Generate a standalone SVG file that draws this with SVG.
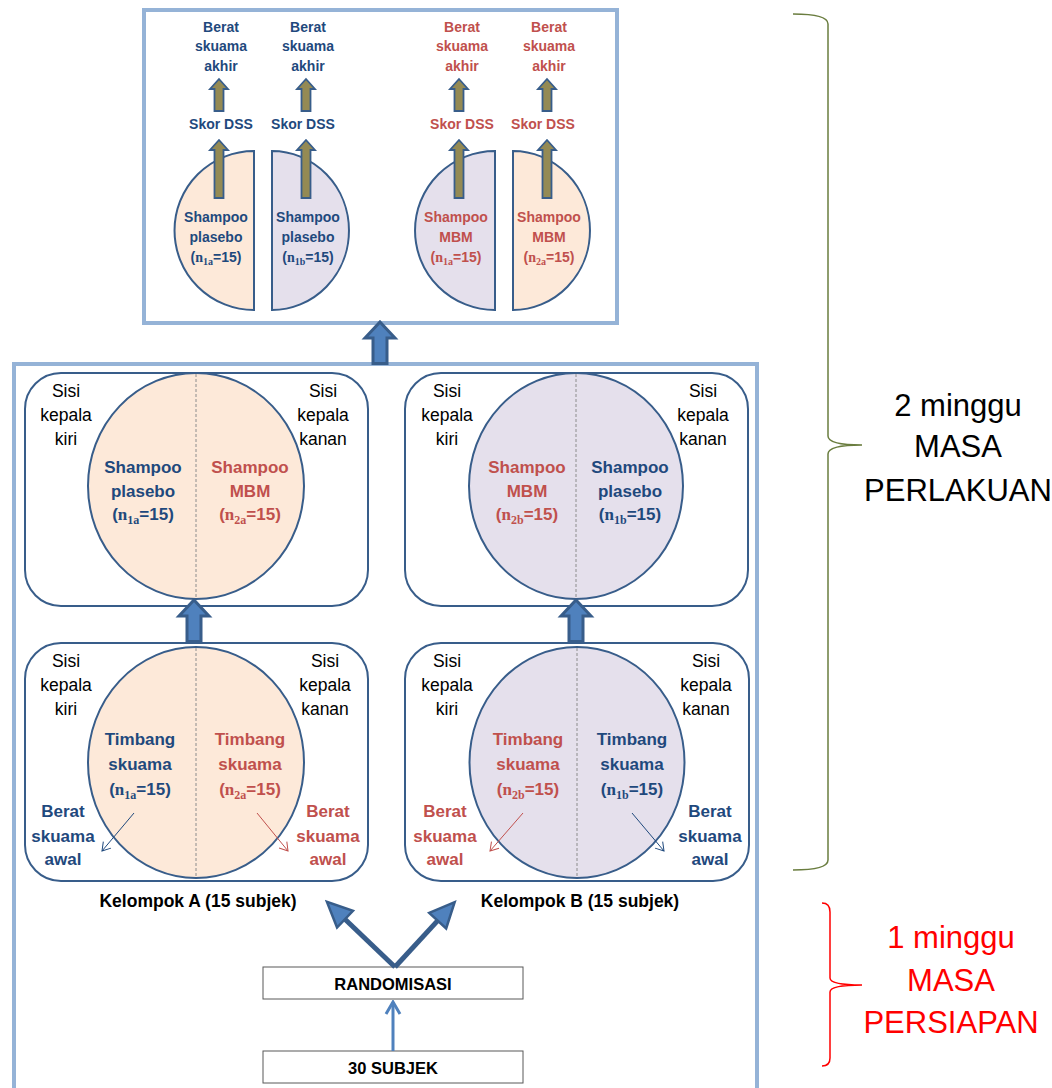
<svg xmlns="http://www.w3.org/2000/svg" xmlns:xlink="http://www.w3.org/1999/xlink" width="1052" height="1088" viewBox="0 0 1052 1088">
  <style>
    text { font-family: "Liberation Sans", Arial, sans-serif; text-anchor: middle; }
    .frame { fill: none; stroke: #95b3d7; stroke-width: 4; }
    .panel { fill: #ffffff; stroke: #385d8a; stroke-width: 2; }
    .peach { fill: #fde9d9; stroke: #385d8a; stroke-width: 2; }
    .lav { fill: #e5e0ec; stroke: #385d8a; stroke-width: 2; }
    .mid { stroke: #8c8c8c; stroke-width: 1; stroke-dasharray: 3 2; }
    .side { font-size: 17.5px; fill: #000000; }
    .lbl { font-size: 17px; font-weight: bold; }
    .sm { font-size: 14px; font-weight: bold; }
    .blue { fill: #1f497d; }
    .red { fill: #c0504d; }
    .serif { font-family: "Liberation Serif", "Times New Roman", serif; font-weight: bold; }
    .blk { fill: #4f81bd; stroke: #385d8a; stroke-width: 3; stroke-linejoin: miter; }
    .olive { fill: #948a54; stroke: #385d8a; stroke-width: 1.8; }
    .box { fill: #ffffff; stroke: #595959; stroke-width: 1; }
    .boxt { font-size: 16.5px; font-weight: bold; fill: #000000; }
    .group { font-size: 17.5px; font-weight: bold; fill: #000000; }
    .thinB { stroke: #1f497d; stroke-width: 1; fill: none; }
    .thinR { stroke: #c0504d; stroke-width: 1; fill: none; }
    .brace { fill: none; stroke-width: 1.5; }
    .period { font-size: 31px; }
  </style>
  <defs>
    <path id="blockUp" d="M0,0 L15,16 L7,16 L7,41.5 L-7,41.5 L-7,16 L-15,16 Z"/>
    <path id="oliveLong" d="M0,0 L9,10 L4.5,10 L4.5,58 L-4.5,58 L-4.5,10 L-9,10 Z"/>
    <path id="oliveShort" d="M0,0 L9,10 L4.5,10 L4.5,32 L-4.5,32 L-4.5,10 L-9,10 Z"/>
    <marker id="headB" viewBox="-9 -6 10 12" markerWidth="10" markerHeight="12" refX="0" refY="0" orient="auto" markerUnits="userSpaceOnUse">
      <path d="M-8,-5 L0,0 L-8,5" fill="none" stroke="#1f497d" stroke-width="1"/>
    </marker>
    <marker id="headR" viewBox="-9 -6 10 12" markerWidth="10" markerHeight="12" refX="0" refY="0" orient="auto" markerUnits="userSpaceOnUse">
      <path d="M-8,-5 L0,0 L-8,5" fill="none" stroke="#c0504d" stroke-width="1"/>
    </marker>
    <marker id="headThick" viewBox="-2 -14 30 28" markerWidth="30" markerHeight="28" refX="0" refY="0" orient="auto" markerUnits="userSpaceOnUse">
      <path d="M0,-11.5 L25,0 L0,11.5 Z" fill="#4f81bd" stroke="#385d8a" stroke-width="2.5"/>
    </marker>
    <marker id="headChevron" viewBox="-9 -2 18 16" markerWidth="18" markerHeight="16" refX="0" refY="0" orient="0" markerUnits="userSpaceOnUse">
      <path d="M-7,12 L0,0 L7,12" fill="none" stroke="#4f81bd" stroke-width="3"/>
    </marker>
  </defs>

  <rect width="1052" height="1088" fill="#ffffff"/>

  <!-- outer frames -->
  <g id="frames">
    <rect class="frame" x="144" y="10" width="473" height="313"/>
    <rect class="frame" x="14" y="364" width="743" height="800"/>
  </g>

  <!-- treatment results -->
  <g id="result-plasebo-1a">
    <path class="peach" d="M254,151 A79.5,79.5 0 0 0 254,310 Z"/>
    <text class="sm blue" x="216" y="222">Shampoo</text>
    <text class="sm blue" x="216" y="242">plasebo</text>
    <text class="sm blue" x="216" y="262">(<tspan class="serif">n</tspan><tspan class="serif" font-size="10" dy="3">1a</tspan><tspan dy="-3">=15)</tspan></text>
    <text class="sm blue" x="221" y="129">Skor DSS</text>
    <text class="sm blue" x="221" y="32">Berat</text>
    <text class="sm blue" x="221" y="51">skuama</text>
    <text class="sm blue" x="221" y="71">akhir</text>
  </g>
  <g id="result-plasebo-1b">
    <path class="lav" d="M272,151 A77,79.5 0 0 1 272,310 Z"/>
    <text class="sm blue" x="308" y="222">Shampoo</text>
    <text class="sm blue" x="308" y="242">plasebo</text>
    <text class="sm blue" x="308" y="262">(<tspan class="serif">n</tspan><tspan class="serif" font-size="10" dy="3">1b</tspan><tspan dy="-3">=15)</tspan></text>
    <text class="sm blue" x="303" y="129">Skor DSS</text>
    <text class="sm blue" x="308" y="32">Berat</text>
    <text class="sm blue" x="308" y="51">skuama</text>
    <text class="sm blue" x="308" y="71">akhir</text>
  </g>
  <g id="result-mbm-1a">
    <path class="lav" d="M495,151 A80,79.5 0 0 0 495,310 Z"/>
    <text class="sm red" x="456" y="222">Shampoo</text>
    <text class="sm red" x="456" y="242">MBM</text>
    <text class="sm red" x="456" y="262">(<tspan class="serif">n</tspan><tspan class="serif" font-size="10" dy="3">1a</tspan><tspan dy="-3">=15)</tspan></text>
    <text class="sm red" x="462" y="129">Skor DSS</text>
    <text class="sm red" x="462" y="32">Berat</text>
    <text class="sm red" x="462" y="51">skuama</text>
    <text class="sm red" x="462" y="71">akhir</text>
  </g>
  <g id="result-mbm-2a">
    <path class="peach" d="M513,151 A77,79.5 0 0 1 513,310 Z"/>
    <text class="sm red" x="549" y="222">Shampoo</text>
    <text class="sm red" x="549" y="242">MBM</text>
    <text class="sm red" x="549" y="262">(<tspan class="serif">n</tspan><tspan class="serif" font-size="10" dy="3">2a</tspan><tspan dy="-3">=15)</tspan></text>
    <text class="sm red" x="543" y="129">Skor DSS</text>
    <text class="sm red" x="549" y="32">Berat</text>
    <text class="sm red" x="549" y="51">skuama</text>
    <text class="sm red" x="549" y="71">akhir</text>
  </g>

  <!-- group A treatment -->
  <g id="treat-a">
    <rect class="panel" x="25" y="373" width="343" height="233" rx="36"/>
    <ellipse class="peach" cx="196" cy="486" rx="108" ry="113"/>
    <line class="mid" x1="196" y1="374" x2="196" y2="598"/>
    <text class="side" x="66" y="397">Sisi</text>
    <text class="side" x="66" y="421">kepala</text>
    <text class="side" x="66" y="445">kiri</text>
    <text class="side" x="323" y="397">Sisi</text>
    <text class="side" x="323" y="421">kepala</text>
    <text class="side" x="323" y="445">kanan</text>
    <text class="lbl blue" x="143" y="473">Shampoo</text>
    <text class="lbl blue" x="143" y="497">plasebo</text>
    <text class="lbl blue" x="143" y="520">(<tspan class="serif">n</tspan><tspan class="serif" font-size="12" dy="4">1a</tspan><tspan dy="-4">=15)</tspan></text>
    <text class="lbl red" x="250" y="473">Shampoo</text>
    <text class="lbl red" x="250" y="497">MBM</text>
    <text class="lbl red" x="250" y="520">(<tspan class="serif">n</tspan><tspan class="serif" font-size="12" dy="4">2a</tspan><tspan dy="-4">=15)</tspan></text>
  </g>

  <!-- group B treatment -->
  <g id="treat-b">
    <rect class="panel" x="405" y="373" width="343" height="233" rx="36"/>
    <ellipse class="lav" cx="576" cy="486" rx="107" ry="113"/>
    <line class="mid" x1="576" y1="374" x2="576" y2="598"/>
    <text class="side" x="447" y="397">Sisi</text>
    <text class="side" x="447" y="421">kepala</text>
    <text class="side" x="447" y="445">kiri</text>
    <text class="side" x="703" y="397">Sisi</text>
    <text class="side" x="703" y="421">kepala</text>
    <text class="side" x="703" y="445">kanan</text>
    <text class="lbl red" x="527" y="473">Shampoo</text>
    <text class="lbl red" x="527" y="497">MBM</text>
    <text class="lbl red" x="527" y="520">(<tspan class="serif">n</tspan><tspan class="serif" font-size="12" dy="4">2b</tspan><tspan dy="-4">=15)</tspan></text>
    <text class="lbl blue" x="630" y="473">Shampoo</text>
    <text class="lbl blue" x="630" y="497">plasebo</text>
    <text class="lbl blue" x="630" y="520">(<tspan class="serif">n</tspan><tspan class="serif" font-size="12" dy="4">1b</tspan><tspan dy="-4">=15)</tspan></text>
  </g>

  <!-- group A baseline weighing -->
  <g id="weigh-a">
    <rect class="panel" x="25" y="643" width="343" height="238" rx="36"/>
    <ellipse class="peach" cx="196" cy="762.5" rx="108" ry="115.5"/>
    <line class="mid" x1="196" y1="648" x2="196" y2="877"/>
    <text class="side" x="66" y="667">Sisi</text>
    <text class="side" x="66" y="691">kepala</text>
    <text class="side" x="66" y="715">kiri</text>
    <text class="side" x="325" y="667">Sisi</text>
    <text class="side" x="325" y="691">kepala</text>
    <text class="side" x="325" y="715">kanan</text>
    <text class="lbl blue" x="140" y="745">Timbang</text>
    <text class="lbl blue" x="140" y="770">skuama</text>
    <text class="lbl blue" x="140" y="795">(<tspan class="serif">n</tspan><tspan class="serif" font-size="12" dy="4">1a</tspan><tspan dy="-4">=15)</tspan></text>
    <text class="lbl red" x="250" y="745">Timbang</text>
    <text class="lbl red" x="250" y="770">skuama</text>
    <text class="lbl red" x="250" y="795">(<tspan class="serif">n</tspan><tspan class="serif" font-size="12" dy="4">2a</tspan><tspan dy="-4">=15)</tspan></text>
    <text class="lbl blue" x="63" y="817">Berat</text>
    <text class="lbl blue" x="63" y="842">skuama</text>
    <text class="lbl blue" x="63" y="865">awal</text>
    <text class="lbl red" x="328" y="817">Berat</text>
    <text class="lbl red" x="328" y="842">skuama</text>
    <text class="lbl red" x="328" y="865">awal</text>
  </g>
  <text id="label-a" class="group" x="198" y="907">Kelompok A (15 subjek)</text>

  <!-- group B baseline weighing -->
  <g id="weigh-b">
    <rect class="panel" x="405" y="643" width="344" height="238" rx="36"/>
    <ellipse class="lav" cx="577" cy="762.5" rx="107.5" ry="115.5"/>
    <line class="mid" x1="577" y1="648" x2="577" y2="877"/>
    <text class="side" x="447" y="667">Sisi</text>
    <text class="side" x="447" y="691">kepala</text>
    <text class="side" x="447" y="715">kiri</text>
    <text class="side" x="706" y="667">Sisi</text>
    <text class="side" x="706" y="691">kepala</text>
    <text class="side" x="706" y="715">kanan</text>
    <text class="lbl red" x="528" y="745">Timbang</text>
    <text class="lbl red" x="528" y="770">skuama</text>
    <text class="lbl red" x="528" y="795">(<tspan class="serif">n</tspan><tspan class="serif" font-size="12" dy="4">2b</tspan><tspan dy="-4">=15)</tspan></text>
    <text class="lbl blue" x="632" y="745">Timbang</text>
    <text class="lbl blue" x="632" y="770">skuama</text>
    <text class="lbl blue" x="632" y="795">(<tspan class="serif">n</tspan><tspan class="serif" font-size="12" dy="4">1b</tspan><tspan dy="-4">=15)</tspan></text>
    <text class="lbl red" x="445" y="817">Berat</text>
    <text class="lbl red" x="445" y="842">skuama</text>
    <text class="lbl red" x="445" y="865">awal</text>
    <text class="lbl blue" x="710" y="817">Berat</text>
    <text class="lbl blue" x="710" y="842">skuama</text>
    <text class="lbl blue" x="710" y="865">awal</text>
  </g>
  <text id="label-b" class="group" x="580" y="907">Kelompok B (15 subjek)</text>

  <!-- randomisation and enrolment -->
  <g id="randomisasi">
    <rect class="box" x="263" y="967" width="260" height="32"/>
    <text class="boxt" x="393" y="990">RANDOMISASI</text>
  </g>
  <g id="subjek">
    <rect class="box" x="263" y="1051" width="260" height="32"/>
    <text class="boxt" x="393" y="1074">30 SUBJEK</text>
  </g>

  <!-- connectors -->
  <g id="connectors">
    <use href="#blockUp" class="blk" x="380" y="322"/>
    <use href="#blockUp" class="blk" x="194" y="600"/>
    <use href="#blockUp" class="blk" x="576" y="600"/>

    <use href="#oliveLong" class="olive" x="219" y="140"/>
    <use href="#oliveLong" class="olive" x="306" y="140"/>
    <use href="#oliveLong" class="olive" x="459" y="140"/>
    <use href="#oliveLong" class="olive" x="547" y="140"/>
    <use href="#oliveShort" class="olive" x="219" y="79"/>
    <use href="#oliveShort" class="olive" x="306" y="79"/>
    <use href="#oliveShort" class="olive" x="459" y="79"/>
    <use href="#oliveShort" class="olive" x="547" y="79"/>

    <line class="thinB" x1="134" y1="813" x2="102" y2="851" marker-end="url(#headB)"/>
    <line class="thinR" x1="257" y1="813" x2="288" y2="851" marker-end="url(#headR)"/>
    <line class="thinR" x1="523" y1="813" x2="490" y2="851" marker-end="url(#headR)"/>
    <line class="thinB" x1="632" y1="813" x2="664" y2="851" marker-end="url(#headB)"/>

    <line x1="395" y1="967" x2="345" y2="919.2" stroke="#385d8a" stroke-width="5" marker-end="url(#headThick)"/>
    <line x1="395" y1="967" x2="437.7" y2="920.6" stroke="#385d8a" stroke-width="5" marker-end="url(#headThick)"/>

    <line x1="393" y1="1051" x2="393" y2="1002" stroke="#4f81bd" stroke-width="3" marker-end="url(#headChevron)"/>
  </g>

  <!-- study periods -->
  <g id="period-treatment">
    <path class="brace" stroke="#6a7d3f" d="M793,14 Q828,14 828,24 L828,436 Q828,445 862,445 Q828,445 828,454 L828,860 Q828,870 793,870"/>
    <text class="period" x="958" y="416" fill="#000000">2 minggu</text>
    <text class="period" x="958" y="457" fill="#000000">MASA</text>
    <text class="period" x="958" y="501" fill="#000000">PERLAKUAN</text>
  </g>
  <g id="period-preparation">
    <path class="brace" stroke="#ff0000" d="M822,903 Q830,903 830,912 L830,978 Q830,985 862,985 Q830,985 830,992 L830,1058 Q830,1066 822,1066"/>
    <text class="period" x="951" y="948" fill="#ff0000">1 minggu</text>
    <text class="period" x="951" y="991" fill="#ff0000">MASA</text>
    <text class="period" x="951" y="1033" fill="#ff0000">PERSIAPAN</text>
  </g>
</svg>
